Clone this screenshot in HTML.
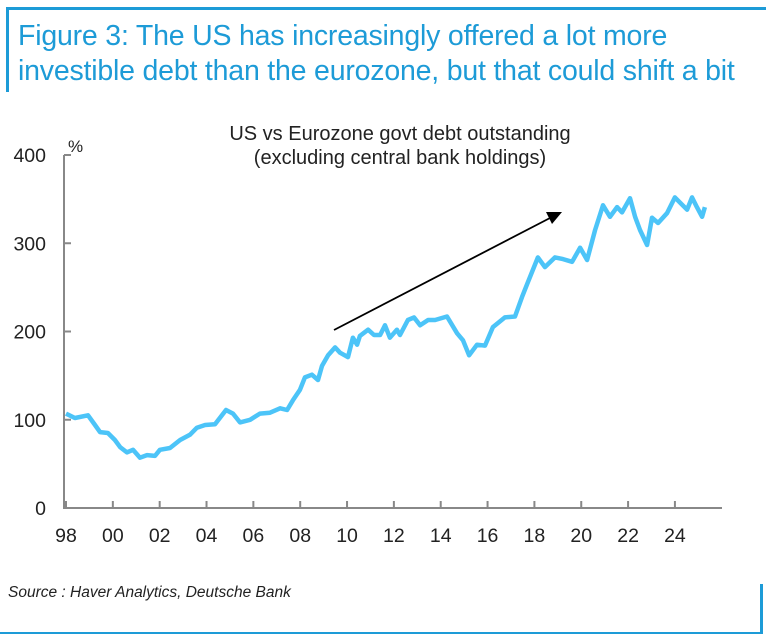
<!DOCTYPE html>
<html><head><meta charset="utf-8"><style>
body{margin:0;width:772px;height:644px;background:#fff;font-family:"Liberation Sans",sans-serif;overflow:hidden;position:relative}
.t{position:absolute;left:18px;top:19px;font-size:28.5px;line-height:35px;color:#1d9bd7;letter-spacing:-0.2px;white-space:nowrap}
</style></head><body>
<div style="position:absolute;left:6px;top:7px;width:760px;height:3px;background:#1d9bd7"></div>
<div style="position:absolute;left:6px;top:7px;width:3px;height:85px;background:#1d9bd7"></div>
<div class="t">Figure 3: The US has increasingly offered a lot more<br>investible debt than the eurozone, but that could shift a bit</div>
<svg width="772" height="644" style="position:absolute;left:0;top:0" id="svg"></svg>
<div style="position:absolute;left:8px;top:584px;font-size:15.5px;font-style:italic;color:#222">Source : Haver Analytics, Deutsche Bank</div>
<div style="position:absolute;left:760px;top:584px;width:3px;height:50px;background:#1d9bd7"></div>
<div style="position:absolute;left:0;top:632px;width:763px;height:2px;background:#1d9bd7"></div>
<script>
const years=[1998.0,1998.38,1998.94,1999.24,1999.45,1999.79,2000.09,2000.31,2000.60,2000.86,2001.16,2001.46,2001.80,2002.01,2002.44,2002.87,2003.29,2003.59,2003.94,2004.36,2004.83,2005.13,2005.43,2005.86,2006.28,2006.71,2007.14,2007.44,2007.69,2007.99,2008.20,2008.50,2008.76,2008.93,2009.19,2009.49,2009.70,2010.04,2010.25,2010.43,2010.55,2010.90,2011.15,2011.41,2011.62,2011.83,2012.13,2012.26,2012.60,2012.86,2013.12,2013.46,2013.76,2014.27,2014.70,2014.95,2015.21,2015.55,2015.89,2016.23,2016.74,2017.17,2017.47,2017.68,2018.15,2018.45,2018.88,2019.22,2019.61,2019.95,2020.25,2020.59,2020.93,2021.23,2021.53,2021.74,2022.08,2022.30,2022.51,2022.81,2023.02,2023.28,2023.66,2024.00,2024.22,2024.52,2024.73,2024.94,2025.16,2025.28];
const values=[107,102,105,94,86,85,77,69,63,66,57,60,59,66,68,77,83,91,94,95,111,107,97,100,107,108,113,111,122,134,148,151,145,161,173,182,176,171,193,185,195,202,196,196,207,193,202,196,213,216,207,213,213,217,198,190,173,185,184,205,216,217,239,253,284,273,284,282,279,295,281,315,343,330,341,335,351,330,315,298,329,323,334,352,346,338,352,341,330,341];
const yTicks=[0,100,200,300,400];
const xTickYears=[1998,2000,2002,2004,2006,2008,2010,2012,2014,2016,2018,2020,2022,2024];
const xTickLabels=["98","00","02","04","06","08","10","12","14","16","18","20","22","24"];
const NS="http://www.w3.org/2000/svg",svg=document.getElementById('svg');
const X=y=>66+(y-1998)*23.42, Y=v=>508-v*0.8825;
function mk(t,a){const e=document.createElementNS(NS,t);for(const k in a)e.setAttribute(k,a[k]);svg.appendChild(e);return e;}
let e;
e=mk('line',{x1:64,y1:155,x2:64,y2:509,stroke:'#888','stroke-width':2});


e=mk('line',{x1:63,y1:508,x2:722,y2:508,stroke:'#888','stroke-width':2});


yTicks.forEach(v=>{
 e=mk('line',{x1:64,y1:Y(v),x2:71,y2:Y(v),stroke:'#888','stroke-width':2});
 
 
 e=mk('text',{x:46,y:Y(v)+7,'text-anchor':'end','font-size':19.5,fill:'#222'});e.textContent=v;
 
 
});
xTickYears.forEach((yr,i)=>{
 e=mk('line',{x1:X(yr),y1:508,x2:X(yr),y2:501,stroke:'#888','stroke-width':2});
 
 
 e=mk('text',{x:X(yr),y:542,'text-anchor':'middle','font-size':19.5,fill:'#222'});e.textContent=xTickLabels[i];
 
 
});
e=mk('text',{x:68,y:152,'font-size':17,fill:'#222'});e.textContent='%';


e=mk('text',{x:400,y:140,'text-anchor':'middle','font-size':20,fill:'#222'});e.textContent='US vs Eurozone govt debt outstanding';


e=mk('text',{x:400,y:164,'text-anchor':'middle','font-size':20,fill:'#222'});e.textContent='(excluding central bank holdings)';


e=mk('path',{d:years.map((y,i)=>(i?'L':'M')+X(y).toFixed(1)+','+Y(values[i]).toFixed(1)).join(''),fill:'none',stroke:'#4cc4f8','stroke-width':4.5,'stroke-linejoin':'round'});


e=mk('line',{x1:334,y1:330,x2:550,y2:218,stroke:'#000','stroke-width':1.8});


e=mk('polygon',{points:'562,212 546,212 552,224',fill:'#000'});


</script>
</body></html>
